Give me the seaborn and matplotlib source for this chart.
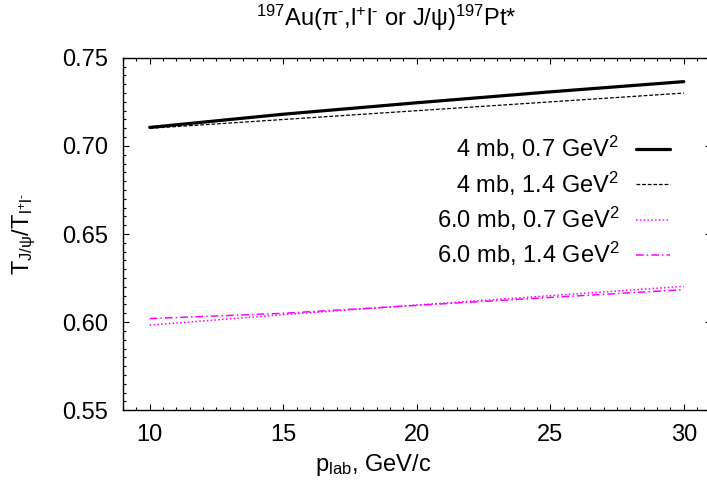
import numpy as np
import pandas as pd
import matplotlib
matplotlib.use("Agg")
import matplotlib.pyplot as plt
from matplotlib.ticker import MultipleLocator
import seaborn as sns

# data
p_lab = [10, 15, 20, 25, 30]
r_4mb_07 = [0.7105, 0.7180, 0.7245, 0.7307, 0.7365]
r_4mb_14 = [0.7100, 0.7150, 0.7200, 0.7250, 0.7300]
r_6mb_07 = [0.5983, 0.6042, 0.6097, 0.6150, 0.6203]
r_6mb_14 = [0.6020, 0.6050, 0.6095, 0.6140, 0.6184]

labels = ["4 mb, 0.7 GeV$^{2}$", "4 mb, 1.4 GeV$^{2}$",
          "6.0 mb, 0.7 GeV$^{2}$", "6.0 mb, 1.4 GeV$^{2}$"]

sns.set_style("ticks")
plt.rcParams["font.family"] = ["Liberation Sans", "DejaVu Sans"]
plt.rcParams["mathtext.fontset"] = "custom"
plt.rcParams["mathtext.rm"] = "Liberation Sans"
plt.rcParams["mathtext.it"] = "Liberation Sans"
plt.rcParams["mathtext.default"] = "rm"
plt.rcParams["font.size"] = 17
plt.rcParams["text.color"] = "black"
plt.rcParams["axes.labelcolor"] = "black"

fig = plt.figure(figsize=(7.07, 4.82), dpi=100)
ax = fig.add_axes([0.174, 0.149, 0.831, 0.731])

styles = [
    dict(color="black", lw=2.3, ls="-"),
    dict(color="black", lw=0.9, ls=(0, (3, 1.5))),
    dict(color="#ff00ff", lw=1.1, ls=(0, (1, 1.5))),
    dict(color="#ff00ff", lw=1.1, ls=(0, (5, 2, 1, 2))),
]
series = [r_4mb_07, r_4mb_14, r_6mb_07, r_6mb_14]
for ys, lab, st in zip(series, labels, styles):
    sns.lineplot(x=p_lab, y=ys, ax=ax, label=lab, **st)

ax.set_xlim(9, 31)
ax.set_ylim(0.55, 0.75)
ax.xaxis.set_major_locator(MultipleLocator(5))
ax.xaxis.set_minor_locator(MultipleLocator(0.5))
ax.yaxis.set_major_locator(MultipleLocator(0.05))
ax.yaxis.set_minor_locator(MultipleLocator(0.005))
ax.yaxis.set_major_formatter(matplotlib.ticker.FormatStrFormatter("%.2f"))
ax.tick_params(which="both", direction="in", top=True, right=True, width=0.8,
               colors="black", labelcolor="black")
ax.tick_params(which="major", length=4.5, labelsize=17)
ax.tick_params(axis="x", which="major", pad=10)
ax.tick_params(axis="y", which="major", pad=11)
ax.tick_params(which="minor", length=2)
for s in ax.spines.values():
    s.set_linewidth(1.0)
    s.set_color("black")

hy = "\u2010"  # short hyphen instead of the long math minus
ax.set_title("$^{197}$Au(π$^{" + hy + "}$,l$^{+}$l$^{" + hy + "}$ or J/ψ)$^{197}$Pt*",
             fontsize=17, x=0.449, pad=23)
ax.set_xlabel("p$_{\\mathrm{lab}}$, GeV/c", fontsize=17, x=0.426, labelpad=4)
ax.set_ylabel("T$_{\\mathrm{J/ψ}}$/T$_{\\mathrm{l^{+}l^{" + hy + "}}}$", fontsize=17, labelpad=17)

ax.legend(loc="upper right", bbox_to_anchor=(0.947, 0.81), frameon=False,
          markerfirst=False, handlelength=1.45, handletextpad=0.7,
          labelspacing=0.3, fontsize=17, borderaxespad=0)

fig.savefig("out.png", dpi=100)
